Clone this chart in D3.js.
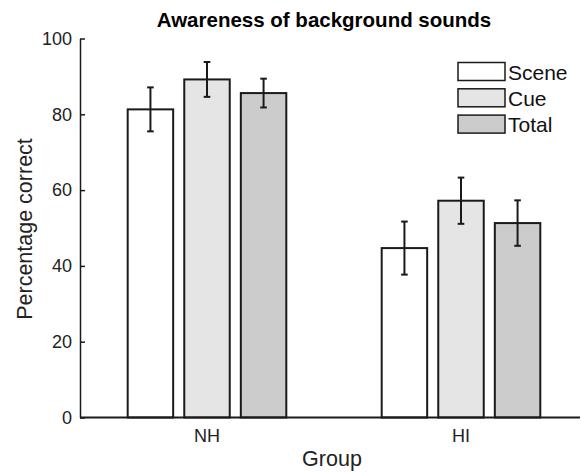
<!DOCTYPE html>
<html>
<head>
<meta charset="utf-8">
<script src="https://cdn.jsdelivr.net/npm/d3@7/dist/d3.min.js"></script>
<style>
  html, body { margin: 0; padding: 0; background: #fff; }
  svg { display: block; font-family: "Liberation Sans", Arial, Helvetica, sans-serif; }
</style>
</head>
<body>
<svg id="chart" width="581" height="472"></svg>
<script>
// Listener groups and stimulus conditions
const groups = ["NH", "HI"];
const conditions = ["Scene", "Cue", "Total"];

// Mean percentage correct per group, in condition order
const nhMeans = [81.3, 89.2, 85.6];
const hiMeans = [44.7, 57.2, 51.3];

// Error bar half-widths (percentage points)
const nhErrors = [5.8, 4.6, 3.8];
const hiErrors = [7.0, 6.1, 6.0];

const yTicks = [0, 20, 40, 60, 80, 100];
const fills = ["#ffffff", "#e5e5e5", "#cccccc"];

const rows = groups.map((g, i) => ({
  group: g,
  values: conditions.map((c, j) => ({
    condition: c,
    mean: (i === 0 ? nhMeans : hiMeans)[j],
    err: (i === 0 ? nhErrors : hiErrors)[j]
  }))
}));

const svg = d3.select("#chart");
const ink = "#1a1a1a";
const plotLeft = 80, plotRight = 580, plotTop = 38.5, plotBottom = 417.5;

const x0 = d3.scaleBand().domain(groups).range([plotLeft, plotLeft + 508])
  .paddingInner(0.331).paddingOuter(0.1655);
const x1 = d3.scaleBand().domain(conditions).range([0, x0.bandwidth()])
  .paddingInner(0.196).paddingOuter(0.1);
const y = d3.scaleLinear().domain([0, 100]).range([plotBottom, plotTop]);
const color = d3.scaleOrdinal().domain(conditions).range(fills);

// Bars
const g = svg.append("g").selectAll("g").data(rows).join("g")
  .attr("transform", d => `translate(${x0(d.group)},0)`);

g.selectAll("rect").data(d => d.values).join("rect")
  .attr("x", d => x1(d.condition))
  .attr("y", d => y(d.mean))
  .attr("width", x1.bandwidth())
  .attr("height", d => y(0) - y(d.mean))
  .attr("fill", d => color(d.condition))
  .attr("stroke", ink)
  .attr("stroke-width", 2);

// Error bars
const eb = g.selectAll("g.err").data(d => d.values).join("g").attr("class", "err")
  .attr("stroke", ink).attr("stroke-width", 2);
const cx = d => x1(d.condition) + x1.bandwidth() / 2;
eb.append("line")
  .attr("x1", cx).attr("x2", cx)
  .attr("y1", d => y(d.mean + d.err)).attr("y2", d => y(d.mean - d.err));
eb.append("line")
  .attr("x1", d => cx(d) - 3.3).attr("x2", d => cx(d) + 3.3)
  .attr("y1", d => y(d.mean + d.err)).attr("y2", d => y(d.mean + d.err));
eb.append("line")
  .attr("x1", d => cx(d) - 3.3).attr("x2", d => cx(d) + 3.3)
  .attr("y1", d => y(d.mean - d.err)).attr("y2", d => y(d.mean - d.err));

// Y axis with inward ticks
const yAxis = svg.append("g").attr("transform", `translate(${plotLeft},0)`)
  .call(d3.axisLeft(y).tickValues(yTicks).tickSize(-5).tickPadding(8).tickSizeOuter(0));
yAxis.select(".domain").attr("stroke", ink).attr("stroke-width", 1.5);
yAxis.selectAll(".tick line").attr("stroke", ink).attr("stroke-width", 1.5);
yAxis.selectAll(".tick text").attr("font-size", 18).attr("fill", "#222")
  .attr("font-family", "Liberation Sans, Arial, sans-serif");

// X axis: baseline and group labels
const xAxis = svg.append("g").attr("transform", `translate(0,${plotBottom})`)
  .call(d3.axisBottom(x0).tickSize(0).tickPadding(12));
xAxis.select(".domain").remove();
xAxis.selectAll(".tick text").attr("font-size", 18).attr("fill", "#222")
  .attr("font-family", "Liberation Sans, Arial, sans-serif");
svg.append("line")
  .attr("x1", plotLeft).attr("x2", plotRight)
  .attr("y1", plotBottom).attr("y2", plotBottom)
  .attr("stroke", ink).attr("stroke-width", 2);

// Titles
svg.append("text").attr("x", 324).attr("y", 27).attr("text-anchor", "middle")
  .attr("font-size", 20.5).attr("font-weight", "bold").attr("fill", "#000")
  .text("Awareness of background sounds");
svg.append("text").attr("x", 332).attr("y", 466).attr("text-anchor", "middle")
  .attr("font-size", 21.5).attr("fill", "#222").text("Group");
svg.append("text").attr("transform", "translate(32,229) rotate(-90)")
  .attr("text-anchor", "middle").attr("font-size", 21.5).attr("fill", "#222")
  .text("Percentage correct");

// Legend
const legend = svg.append("g").attr("transform", "translate(458,62.5)");
const li = legend.selectAll("g").data(conditions).join("g")
  .attr("transform", (d, i) => `translate(0,${i * 26.3})`);
li.append("rect").attr("width", 47).attr("height", 18)
  .attr("fill", d => color(d)).attr("stroke", ink).attr("stroke-width", 1.5);
li.append("text").attr("x", 50).attr("y", 17).attr("font-size", 21).attr("fill", "#111")
  .text(d => d);
</script>
</body>
</html>
